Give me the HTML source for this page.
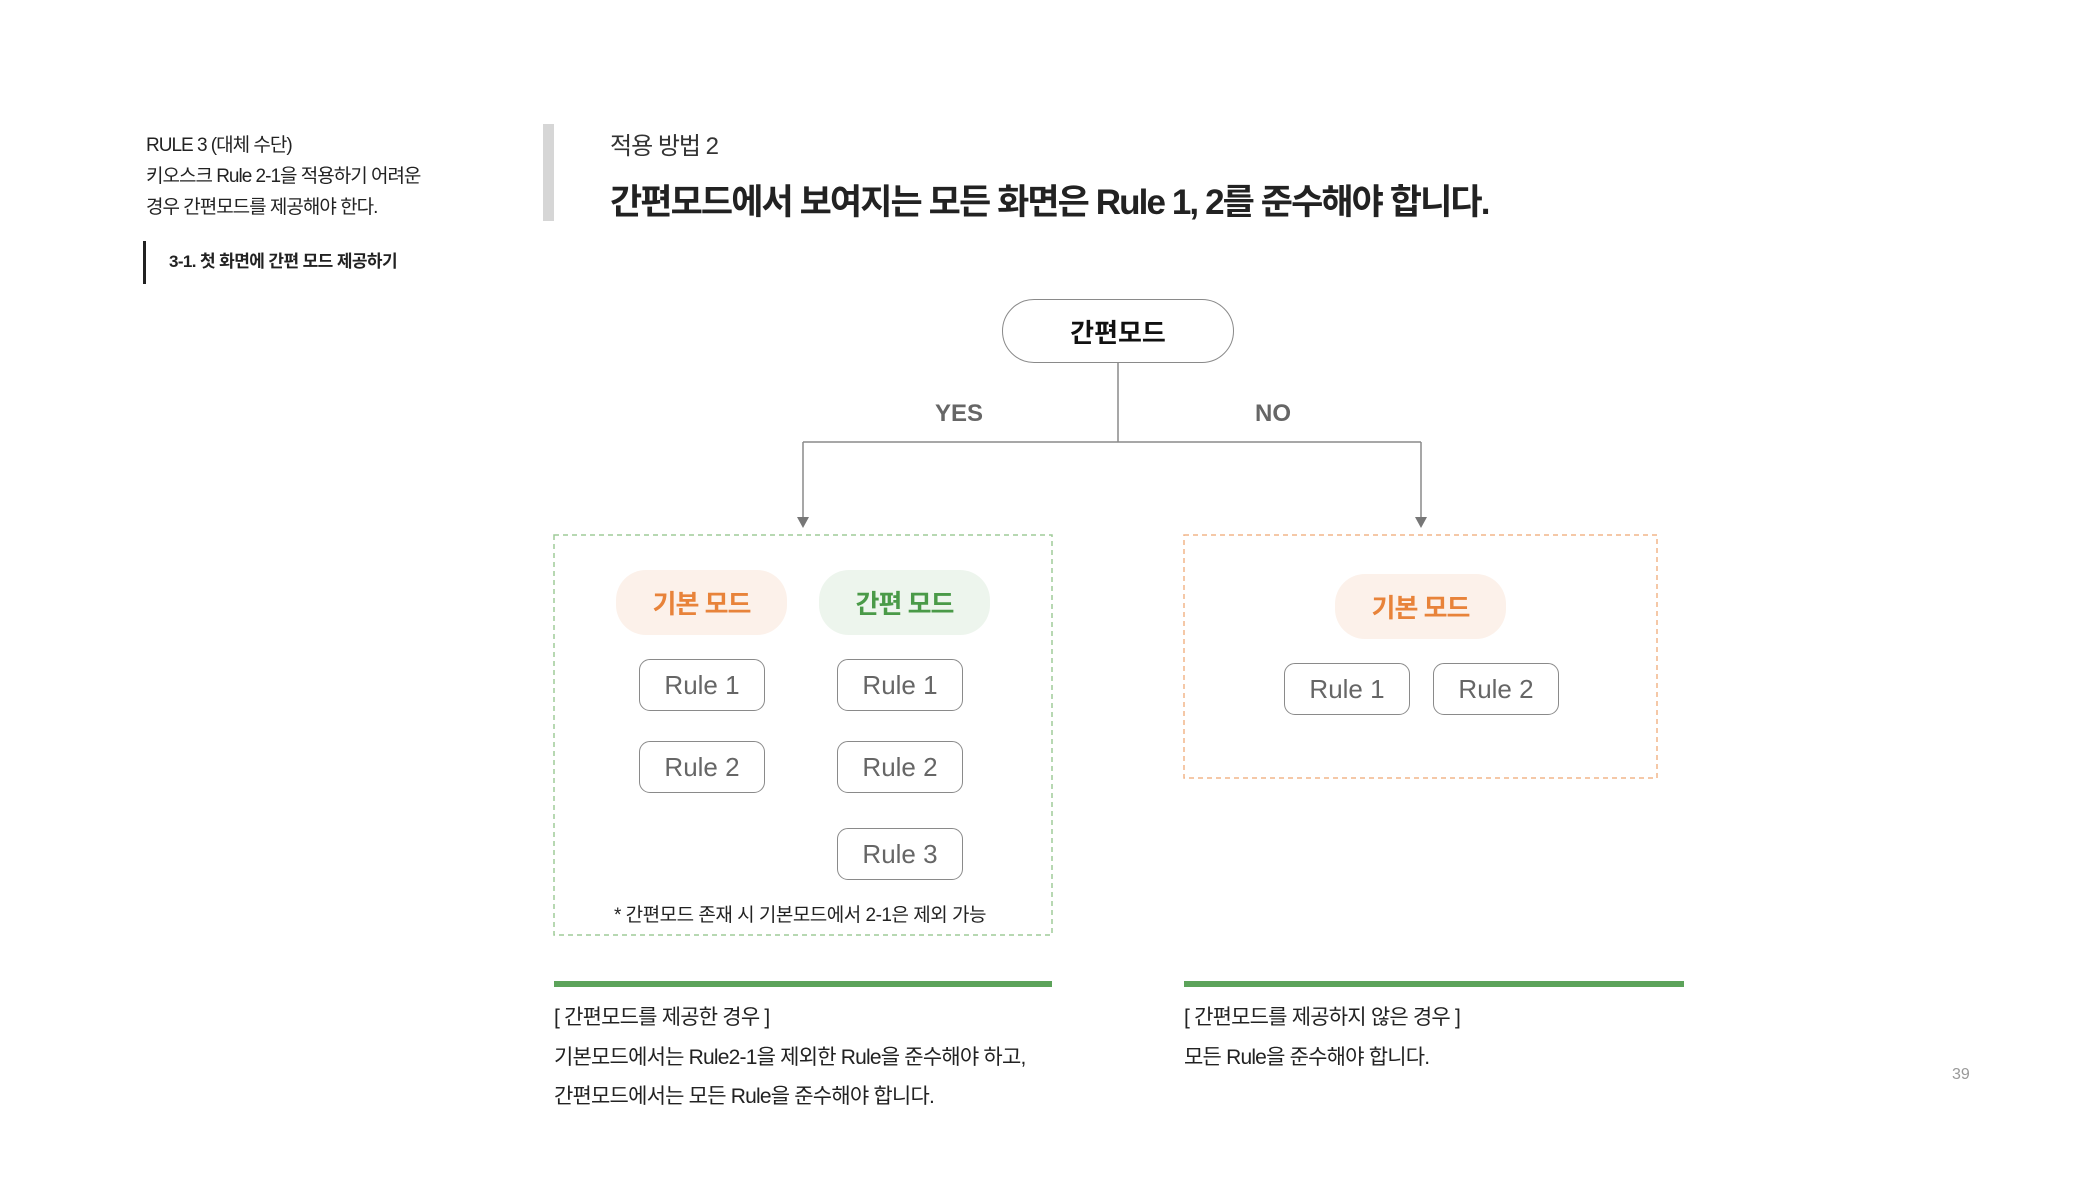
<!DOCTYPE html>
<html><head><meta charset="utf-8"><style>
*{margin:0;padding:0;box-sizing:border-box}
body{width:2098px;height:1180px;background:#fff;position:relative;overflow:hidden;font-family:"Liberation Sans","Noto Sans CJK KR",sans-serif;color:#222}
.a{position:absolute;white-space:nowrap}
.c{display:flex;align-items:center;justify-content:center}
.rule{position:absolute;border:1.5px solid #8a8a8a;border-radius:11px;color:#666;font-size:26px;display:flex;align-items:center;justify-content:center;width:126px;height:52px}
.pill{position:absolute;border-radius:30px;font-weight:bold;font-size:26px;display:flex;align-items:center;justify-content:center;width:171px;height:65px;letter-spacing:-1px}
</style></head><body>
<div class="a" style="left:146px;top:130px;font-size:19px;line-height:31px;letter-spacing:-1px">RULE 3 (대체 수단)<br>키오스크 Rule 2-1을 적용하기 어려운<br>경우 간편모드를 제공해야 한다.</div>
<div class="a" style="left:143px;top:241px;width:3px;height:43px;background:#222"></div>
<div class="a" style="left:169px;top:247px;font-size:17px;font-weight:bold;letter-spacing:-0.6px">3-1. 첫 화면에 간편 모드 제공하기</div>
<div class="a" style="left:543px;top:124px;width:11px;height:97px;background:#d6d6d6"></div>
<div class="a" style="left:610px;top:126px;font-size:24px;letter-spacing:-1px;color:#333">적용 방법 2</div>
<div class="a" style="left:610px;top:174px;font-size:35px;font-weight:bold;letter-spacing:-1.9px;color:#222">간편모드에서 보여지는 모든 화면은 Rule 1, 2를 준수해야 합니다.</div>

<div class="a c" style="left:1002px;top:299px;width:232px;height:64px;border:1.5px solid #8a8a8a;border-radius:32px;font-size:26px;font-weight:bold;color:#111">간편모드</div>
<svg class="a" style="left:0;top:0" width="2098" height="1180">
<g stroke="#8a8a8a" stroke-width="1.5" fill="none">
<path d="M1118 363V442M803 442H1421M803 442V524M1421 442V524"/>
</g>
<path d="M797 517L803 528L809 517Z M1415 517L1421 528L1427 517Z" fill="#777"/>
<rect x="554" y="535" width="498" height="400" fill="none" stroke="#9fcb98" stroke-width="1.5" stroke-dasharray="5 4"/>
<rect x="1184" y="535" width="473" height="243" fill="none" stroke="#f2b58a" stroke-width="1.5" stroke-dasharray="5 4"/>
</svg>
<div class="a" style="left:935px;top:400px;font-size:24px;font-weight:bold;color:#666">YES</div>
<div class="a" style="left:1255px;top:400px;font-size:24px;font-weight:bold;color:#666">NO</div>

<div class="pill" style="left:616px;top:570px;background:#fcf1ea;color:#e8833a">기본 모드</div>
<div class="pill" style="left:819px;top:570px;background:#edf5ed;color:#4a9a48">간편 모드</div>
<div class="pill" style="left:1335px;top:574px;background:#fcf1ea;color:#e8833a">기본 모드</div>

<div class="rule" style="left:639px;top:659px">Rule 1</div>
<div class="rule" style="left:639px;top:741px">Rule 2</div>
<div class="rule" style="left:837px;top:659px">Rule 1</div>
<div class="rule" style="left:837px;top:741px">Rule 2</div>
<div class="rule" style="left:837px;top:828px">Rule 3</div>
<div class="rule" style="left:1284px;top:663px">Rule 1</div>
<div class="rule" style="left:1433px;top:663px">Rule 2</div>

<div class="a" style="left:614px;top:900px;font-size:19px;letter-spacing:-0.5px;color:#222">* 간편모드 존재 시 기본모드에서 2-1은 제외 가능</div>

<div class="a" style="left:554px;top:981px;width:498px;height:6px;background:#5ca35a"></div>
<div class="a" style="left:1184px;top:981px;width:500px;height:6px;background:#5ca35a"></div>
<div class="a" style="left:554px;top:998px;font-size:21px;line-height:39.5px;letter-spacing:-0.8px;color:#222">[ 간편모드를 제공한 경우 ]<br>기본모드에서는 Rule2-1을 제외한 Rule을 준수해야 하고,<br>간편모드에서는 모든 Rule을 준수해야 합니다.</div>
<div class="a" style="left:1184px;top:998px;font-size:21px;line-height:39.5px;letter-spacing:-0.8px;color:#222">[ 간편모드를 제공하지 않은 경우 ]<br>모든 Rule을 준수해야 합니다.</div>
<div class="a" style="left:1952px;top:1066px;font-size:16px;color:#999">39</div>
</body></html>
